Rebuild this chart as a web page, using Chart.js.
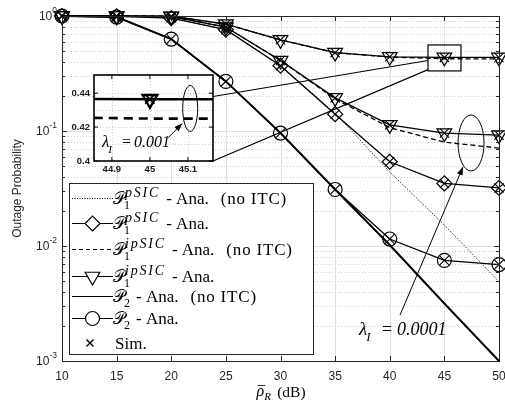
<!DOCTYPE html>
<html><head><meta charset="utf-8">
<script src="https://cdn.jsdelivr.net/npm/chart.js@4.4.0/dist/chart.umd.min.js"></script>
<style>
html,body{margin:0;padding:0;background:#fff;}
#wrap{position:relative;width:505px;height:407px;overflow:hidden;}
#main{position:absolute;left:0;top:0;}
#inset{position:absolute;left:66px;top:70px;}
</style></head><body>
<div id="wrap"><canvas id="main" width="505" height="407"></canvas><canvas id="inset" width="152" height="110"></canvas></div>
<script>
// ---------------- data ----------------
const snrDb = [10, 15, 20, 25, 30, 35, 40, 45, 50];
const p1PsicNoItc   = [1, 0.995, 0.96, 0.76, 0.37, 0.143, 0.044, 0.0152, 0.0049];
const p1PsicAna     = [1, 0.995, 0.96, 0.76, 0.37, 0.140, 0.054, 0.035, 0.032];
const p1IpsicNoItcA = [1, 1, 0.995, 0.85, 0.62, 0.48, 0.440, 0.425, 0.424];
const p1IpsicAnaA   = [1, 1, 0.995, 0.85, 0.62, 0.48, 0.442, 0.4364, 0.4362];
const p1IpsicNoItcB = [1, 1, 0.99, 0.80, 0.41, 0.190, 0.107, 0.080, 0.071];
const p1IpsicAnaB   = [1, 1, 0.99, 0.80, 0.41, 0.194, 0.113, 0.096, 0.092];
const p2NoItc       = [1, 0.98, 0.63, 0.27, 0.096, 0.031, 0.0102, 0.00316, 0.001];
const p2Ana         = [1, 0.98, 0.63, 0.27, 0.096, 0.031, 0.0115, 0.0075, 0.0069];
const xTicks = [10, 15, 20, 25, 30, 35, 40, 45, 50];
const yDecades = [1, 0.1, 0.01, 0.001];
const yDecadeExp = ['0', '-1', '-2', '-3'];
const insetXTicks = [44.9, 45, 45.1];
const insetXLabels = ['44.9', '45', '45.1'];
const insetYTicks = [0.4, 0.42, 0.44];
const insetYLabels = ['0.4', '0.42', '0.44'];
const lambdaMain = '0.0001';
const lambdaInset = '0.001';

// annotation anchors (data units)
const zoomBox = {x0: 43.5, x1: 46.52, y0: 0.56, y1: 0.333};
const ellipseMain = {x: 47.44, y: 0.0787, rx: 13, ry: 28};
const arrowMain = {x0: 40.94, y0: 0.00251, x1: 46.70, y1: 0.0486};
const labelMain = {x: 37.19, y: 0.00168};
const ellipseInset = {x: 45.106, y: 0.431, rx: 7.5, ry: 23};
const arrowInset = {x0: 45.048, y0: 0.4137, x1: 45.085, y1: 0.4221};
const labelInset = {x: 44.874, y: 0.4085};

const SANS = '"Liberation Sans", Arial, sans-serif';
const SERIF = '"Liberation Serif", "Times New Roman", serif';
const AX = '#262626';

function glyphOK(ch, font){
  const c=document.createElement('canvas'); c.width=40; c.height=40;
  const g=c.getContext('2d'); g.font=font; g.textBaseline='top';
  g.fillText(ch,4,4); const a=g.getImageData(0,0,40,40).data;
  g.clearRect(0,0,40,40); g.fillText('\u{10FFFD}',4,4); const b=g.getImageData(0,0,40,40).data;
  let diff=0, ink=0;
  for(let i=3;i<a.length;i+=4){ if(a[i]!==b[i]) diff++; if(a[i]>0) ink++; }
  return diff>0 && ink>0;
}
const SCRIPT_FONT = '17px "DejaVu Serif", "DejaVu Sans", "Noto Sans", serif';
const useScript = glyphOK('\u{1D4AB}', SCRIPT_FONT);
const P_CHAR = useScript ? '\u{1D4AB}' : 'P';
const P_FONT = useScript ? SCRIPT_FONT : 'italic 17px ' + SERIF;

function pts(arr){ return snrDb.map((x,i)=>({x:x, y:arr[i]})); }
function line(ctx,x0,y0,x1,y1){ ctx.beginPath(); ctx.moveTo(x0,y0); ctx.lineTo(x1,y1); ctx.stroke(); }
function arrow(ctx,x0,y0,x1,y1){
  ctx.beginPath(); ctx.moveTo(x0,y0); ctx.lineTo(x1,y1); ctx.stroke();
  const ang=Math.atan2(y1-y0,x1-x0), L=8, W=3;
  ctx.beginPath();
  ctx.moveTo(x1,y1);
  ctx.lineTo(x1-L*Math.cos(ang)+W*Math.sin(ang), y1-L*Math.sin(ang)-W*Math.cos(ang));
  ctx.lineTo(x1-L*Math.cos(ang)-W*Math.sin(ang), y1-L*Math.sin(ang)+W*Math.cos(ang));
  ctx.closePath(); ctx.fill();
}
function lambdaText(ctx,x,y,val,fs,eqOff,valOff){
  ctx.fillStyle='#000'; ctx.textAlign='left'; ctx.textBaseline='alphabetic';
  ctx.font='italic '+(fs+1)+'px '+SERIF; ctx.fillText('\u03BB',x,y);
  const w=ctx.measureText('\u03BB').width;
  ctx.font='italic '+Math.round(fs*0.7)+'px '+SERIF; ctx.fillText('I',x+w-1,y+6);
  ctx.font=fs+'px '+SERIF; ctx.fillText('=',x+eqOff,y);
  ctx.font='italic '+fs+'px '+SERIF; ctx.fillText(val,x+valOff,y);
}

// ---------------- inset chart ----------------
const insetPos = {left:66, top:70};
const insetPlugin = {
  id:'insetDeco',
  beforeDatasetsDraw(chart){
    const {ctx, chartArea:a, scales:{x,y}} = chart;
    ctx.save();
    ctx.fillStyle='#fff'; ctx.fillRect(a.left,a.top,a.right-a.left,a.bottom-a.top);
    ctx.strokeStyle='#cccccc'; ctx.lineWidth=1; ctx.setLineDash([1,2]);
    for(const t of insetXTicks){ const xx=Math.round(x.getPixelForValue(t))+0.5; line(ctx,xx,a.top,xx,a.bottom); }
    for(const t of [0.41,0.42,0.43,0.44]){ const yy=Math.round(y.getPixelForValue(t))+0.5; line(ctx,a.left,yy,a.right,yy); }
    ctx.restore();
  },
  afterDatasetsDraw(chart){
    const {ctx, chartArea:a, scales:{x,y}} = chart;
    ctx.save();
    ctx.strokeStyle='#000'; ctx.lineWidth=1.6;
    ctx.strokeRect(a.left,a.top,a.right-a.left,a.bottom-a.top);
    ctx.lineWidth=1;
    for(const t of insetXTicks){ const xx=x.getPixelForValue(t); line(ctx,xx,a.bottom,xx,a.bottom-4); line(ctx,xx,a.top,xx,a.top+4); }
    for(const t of insetYTicks){ const yy=y.getPixelForValue(t); line(ctx,a.left,yy,a.left+4,yy); line(ctx,a.right,yy,a.right-4,yy); }
    ctx.fillStyle='#1a1a1a'; ctx.font='bold 9.5px '+SANS;
    ctx.textAlign='right'; ctx.textBaseline='middle';
    insetYTicks.forEach((t,i)=>{ ctx.fillText(insetYLabels[i], a.left-4, y.getPixelForValue(t)); });
    ctx.textAlign='center'; ctx.textBaseline='top';
    insetXTicks.forEach((t,i)=>{ ctx.fillText(insetXLabels[i], x.getPixelForValue(t), a.bottom+4); });
    ctx.lineWidth=1; ctx.strokeStyle='#000'; ctx.fillStyle='#000';
    ctx.beginPath(); ctx.ellipse(x.getPixelForValue(ellipseInset.x), y.getPixelForValue(ellipseInset.y), ellipseInset.rx, ellipseInset.ry, 0, 0, Math.PI*2); ctx.stroke();
    arrow(ctx, x.getPixelForValue(arrowInset.x0), y.getPixelForValue(arrowInset.y0), x.getPixelForValue(arrowInset.x1), y.getPixelForValue(arrowInset.y1));
    lambdaText(ctx, x.getPixelForValue(labelInset.x), y.getPixelForValue(labelInset.y), lambdaInset, 16, 20, 32);
    ctx.restore();
  }
};
const insetChart = new Chart(document.getElementById('inset'), {
  type:'line',
  data:{datasets:[
    {data:pts(p1IpsicAnaA), showLine:false, pointStyle:'crossRot', pointRadius:6.5, pointBorderWidth:1.8, pointBorderColor:'#000', order:0},
    {data:pts(p1IpsicAnaA), showLine:false, pointStyle:'triangle', pointRotation:180, pointRadius:8.5, pointBorderWidth:2.4, pointBorderColor:'#000', pointBackgroundColor:'rgba(0,0,0,0)', order:0},
    {data:pts(p1IpsicAnaA), borderColor:'#000', borderWidth:2.6, pointRadius:0, order:1},
    {data:pts(p1IpsicNoItcA), borderColor:'#000', borderWidth:2.6, borderDash:[9,6], pointRadius:0, order:1}
  ]},
  options:{
    responsive:false, animation:false, devicePixelRatio:1,
    layout:{autoPadding:false, padding:{left:28, top:5, right:5, bottom:19}},
    scales:{ x:{type:'linear', min:44.853, max:45.166, display:false}, y:{type:'linear', min:0.4, max:0.4507, display:false} },
    plugins:{legend:{display:false}, tooltip:{enabled:false}},
    elements:{line:{tension:0}}
  },
  plugins:[insetPlugin]
});

// ---------------- main chart ----------------
function drawMarker(ctx, kind, x, y){
  ctx.save(); ctx.strokeStyle='#000'; ctx.fillStyle='#fff'; ctx.lineWidth=1.2; ctx.setLineDash([]);
  ctx.beginPath();
  if(kind==='diamond'){ const r=7.5; ctx.moveTo(x-r,y); ctx.lineTo(x,y-r); ctx.lineTo(x+r,y); ctx.lineTo(x,y+r); ctx.closePath(); }
  else if(kind==='triangle'){ const r=8.5; ctx.moveTo(x, y+r); ctx.lineTo(x+r*Math.sin(Math.PI/3), y-r/2); ctx.lineTo(x-r*Math.sin(Math.PI/3), y-r/2); ctx.closePath(); }
  else if(kind==='circle'){ ctx.arc(x,y,7,0,Math.PI*2); }
  ctx.fill(); ctx.stroke(); ctx.restore();
}
function drawLegend(ctx){
  const L=69, T=183, R=314, B=355;
  ctx.save();
  ctx.fillStyle='#fff'; ctx.fillRect(L,T,R-L,B-T);
  ctx.strokeStyle=AX; ctx.lineWidth=1; ctx.strokeRect(L+0.5,T+0.5,R-L-1,B-T-1);
  const rows=[
    {y:198, kind:'dotted', sub:'1', sup:'pSIC', extra:true},
    {y:223, kind:'diamond', sub:'1', sup:'pSIC'},
    {y:249, kind:'dashed', sub:'1', sup:'ipSIC', extra:true},
    {y:276, kind:'triangle', sub:'1', sup:'ipSIC'},
    {y:296, kind:'solid', sub:'2', sup:'', extra:true},
    {y:318, kind:'circle', sub:'2', sup:''},
    {y:343, kind:'sim'}
  ];
  for(const r of rows){
    ctx.strokeStyle='#000'; ctx.lineWidth=1.2; ctx.setLineDash([]);
    if(r.kind==='sim'){
      ctx.lineWidth=1.4; const cx=90, s=3.5;
      line(ctx,cx-s,r.y-s,cx+s,r.y+s); line(ctx,cx-s,r.y+s,cx+s,r.y-s);
      ctx.fillStyle='#000'; ctx.font='17px '+SERIF; ctx.textBaseline='alphabetic'; ctx.textAlign='left';
      ctx.fillText('Sim.',115,r.y+5.5);
      continue;
    }
    if(r.kind==='dotted'){ ctx.lineWidth=1; ctx.setLineDash([1,1.5]); }
    if(r.kind==='dashed'){ ctx.setLineDash([4,3]); }
    line(ctx,72,r.y+0.5,113,r.y+0.5);
    ctx.setLineDash([]);
    if(['diamond','triangle','circle'].includes(r.kind)) drawMarker(ctx,r.kind,92.5,r.y+0.5);
    ctx.fillStyle='#000'; ctx.textAlign='left'; ctx.textBaseline='alphabetic';
    ctx.font=P_FONT; ctx.fillText(P_CHAR,113,r.y+6);
    const xs=124;
    ctx.font='12px '+SERIF; ctx.fillText(r.sub,xs,r.y+11);
    let end=xs+ctx.measureText(r.sub).width;
    if(r.sup){
      ctx.font='italic 14px '+SERIF; ctx.letterSpacing='1.8px';
      ctx.fillText(r.sup,xs+1,r.y-1);
      end=Math.max(end,xs+1+ctx.measureText(r.sup).width);
      ctx.letterSpacing='0px';
    }
    ctx.font='17px '+SERIF;
    const tx=end+6;
    ctx.fillText('- Ana.',tx,r.y+6);
    if(r.extra){
      const w=ctx.measureText('- Ana.').width;
      ctx.letterSpacing='0.8px';
      ctx.fillText('(no ITC)',tx+w+12,r.y+6);
      ctx.letterSpacing='0px';
    }
  }
  ctx.restore();
}
const mainPlugin = {
  id:'mainDeco',
  beforeDatasetsDraw(chart){
    const {ctx, chartArea:a, scales:{x,y}} = chart;
    ctx.save();
    ctx.strokeStyle='#cdcdcd'; ctx.lineWidth=1; ctx.setLineDash([1,2]);
    for(let e=-3;e<0;e++) for(let k=2;k<=9;k++){ const yy=Math.round(y.getPixelForValue(k*Math.pow(10,e)))+0.5; line(ctx,a.left,yy,a.right,yy); }
    ctx.setLineDash([]); ctx.strokeStyle='#e0e0e0';
    for(const t of xTicks){ if(t<=x.min||t>=x.max) continue; const xx=Math.round(x.getPixelForValue(t))+0.5; line(ctx,xx,a.top,xx,a.bottom); }
    for(const d of yDecades){ if(d>=y.max||d<=y.min) continue; const yy=Math.round(y.getPixelForValue(d))+0.5; line(ctx,a.left,yy,a.right,yy); }
    ctx.restore();
  },
  afterDatasetsDraw(chart){
    const {ctx, chartArea:a, scales:{x,y}} = chart;
    ctx.save();
    ctx.strokeStyle=AX; ctx.lineWidth=1;
    ctx.strokeRect(Math.round(a.left)+0.5, Math.round(a.top)+0.5, Math.round(a.right-a.left), Math.round(a.bottom-a.top));
    for(const t of xTicks){ const xx=Math.round(x.getPixelForValue(t))+0.5; line(ctx,xx,a.bottom,xx,a.bottom-5); line(ctx,xx,a.top,xx,a.top+5); }
    for(let e=-3;e<=0;e++) for(let k=1;k<=9;k++){
      const v=k*Math.pow(10,e); if(v>1.0001) continue;
      const yy=Math.round(y.getPixelForValue(v))+0.5, len=(k===1)?5:3;
      line(ctx,a.left,yy,a.left+len,yy); line(ctx,a.right,yy,a.right-len,yy);
    }
    ctx.fillStyle=AX; ctx.textBaseline='middle';
    ctx.font='12px '+SANS; ctx.textAlign='center';
    for(const t of xTicks) ctx.fillText(String(t), x.getPixelForValue(t), a.bottom+16);
    yDecades.forEach((d,i)=>{
      const yy=y.getPixelForValue(d);
      ctx.font='8.5px '+SANS; ctx.textAlign='right';
      const ex=yDecadeExp[i]; const ew=ctx.measureText(ex).width;
      ctx.fillText(ex, a.left-5, yy-5);
      ctx.font='12px '+SANS; ctx.fillText('10', a.left-5-ew, yy+1);
    });
    ctx.save(); ctx.translate(18,(a.top+a.bottom)/2); ctx.rotate(-Math.PI/2);
    ctx.font='12px '+SANS; ctx.textAlign='center'; ctx.fillText('Outage Probability',0,0); ctx.restore();
    const cx=(a.left+a.right)/2;
    ctx.fillStyle='#000'; ctx.textAlign='left'; ctx.textBaseline='alphabetic';
    ctx.font='italic 16px '+SERIF; const rw=ctx.measureText('\u03C1').width;
    const x0=cx-24;
    ctx.fillText('\u03C1',x0,396);
    ctx.strokeStyle='#000'; ctx.lineWidth=0.8; line(ctx,x0+1,385.5,x0+rw+1,385.5);
    ctx.font='italic 11px '+SERIF; ctx.fillText('R',x0+rw,400);
    ctx.font='15.5px '+SERIF; ctx.fillText('(dB)',x0+rw+13,397);
    const bx0=x.getPixelForValue(zoomBox.x0), bx1=x.getPixelForValue(zoomBox.x1);
    const by0=y.getPixelForValue(zoomBox.y0), by1=y.getPixelForValue(zoomBox.y1);
    ctx.strokeStyle='#000'; ctx.lineWidth=1.2;
    ctx.strokeRect(bx0,by0,bx1-bx0,by1-by0);
    const ia=insetChart.chartArea;
    const iyTop=insetPos.top+insetChart.scales.y.getPixelForValue(0.438);
    const iR=insetPos.left+ia.right, iB=insetPos.top+ia.bottom;
    ctx.lineWidth=1.1;
    line(ctx,iR,iyTop,bx0,by0+(by1-by0)*0.6);
    line(ctx,iR,iB,bx0,by0+(by1-by0)*0.95);
    ctx.lineWidth=1; ctx.fillStyle='#000';
    ctx.beginPath(); ctx.ellipse(x.getPixelForValue(ellipseMain.x), y.getPixelForValue(ellipseMain.y), ellipseMain.rx, ellipseMain.ry, 0, 0, Math.PI*2); ctx.stroke();
    arrow(ctx, x.getPixelForValue(arrowMain.x0), y.getPixelForValue(arrowMain.y0), x.getPixelForValue(arrowMain.x1), y.getPixelForValue(arrowMain.y1));
    lambdaText(ctx, x.getPixelForValue(labelMain.x), y.getPixelForValue(labelMain.y), lambdaMain, 18, 23, 38);
    drawLegend(ctx);
    ctx.restore();
  }
};

function lineDs(arr, o){ return Object.assign({data:pts(arr), borderColor:'#000', backgroundColor:'#000', borderWidth:1.3, pointRadius:0, clip:false, order:2, fill:false}, o); }
function markDs(arr, style, r, o){ return Object.assign({data:pts(arr), showLine:false, pointStyle:style, pointRadius:r, pointBorderWidth:1.2, pointBorderColor:'#000', pointBackgroundColor:'rgba(0,0,0,0)', clip:false, order:1}, o); }
function simDs(arr){ return {data:pts(arr), showLine:false, pointStyle:'crossRot', pointRadius:6.5, pointBorderWidth:1.1, pointBorderColor:'#000', clip:false, order:0}; }

new Chart(document.getElementById('main'), {
  type:'line',
  data:{datasets:[
    lineDs(p1PsicNoItc, {borderWidth:1, borderDash:[1,1.5]}),
    lineDs(p1PsicAna),
    markDs(p1PsicAna, 'rectRot', 7.5),
    simDs(p1PsicAna),
    lineDs(p1IpsicNoItcA, {borderDash:[5,3]}),
    lineDs(p1IpsicNoItcB, {borderDash:[5,3]}),
    lineDs(p1IpsicAnaA),
    lineDs(p1IpsicAnaB),
    markDs(p1IpsicAnaA, 'triangle', 8.5, {pointRotation:180}),
    markDs(p1IpsicAnaB, 'triangle', 8.5, {pointRotation:180}),
    simDs(p1IpsicAnaA),
    simDs(p1IpsicAnaB),
    lineDs(p2NoItc, {borderWidth:2}),
    lineDs(p2Ana),
    markDs(p2Ana, 'circle', 7),
    simDs(p2Ana)
  ]},
  options:{
    responsive:false, animation:false, devicePixelRatio:1,
    layout:{autoPadding:false, padding:{left:62, top:16, right:6, bottom:46}},
    scales:{ x:{type:'linear', min:10, max:50, display:false}, y:{type:'logarithmic', min:0.001, max:1, display:false} },
    plugins:{legend:{display:false}, tooltip:{enabled:false}},
    elements:{line:{tension:0}}
  },
  plugins:[mainPlugin]
});
</script>
</body></html>
